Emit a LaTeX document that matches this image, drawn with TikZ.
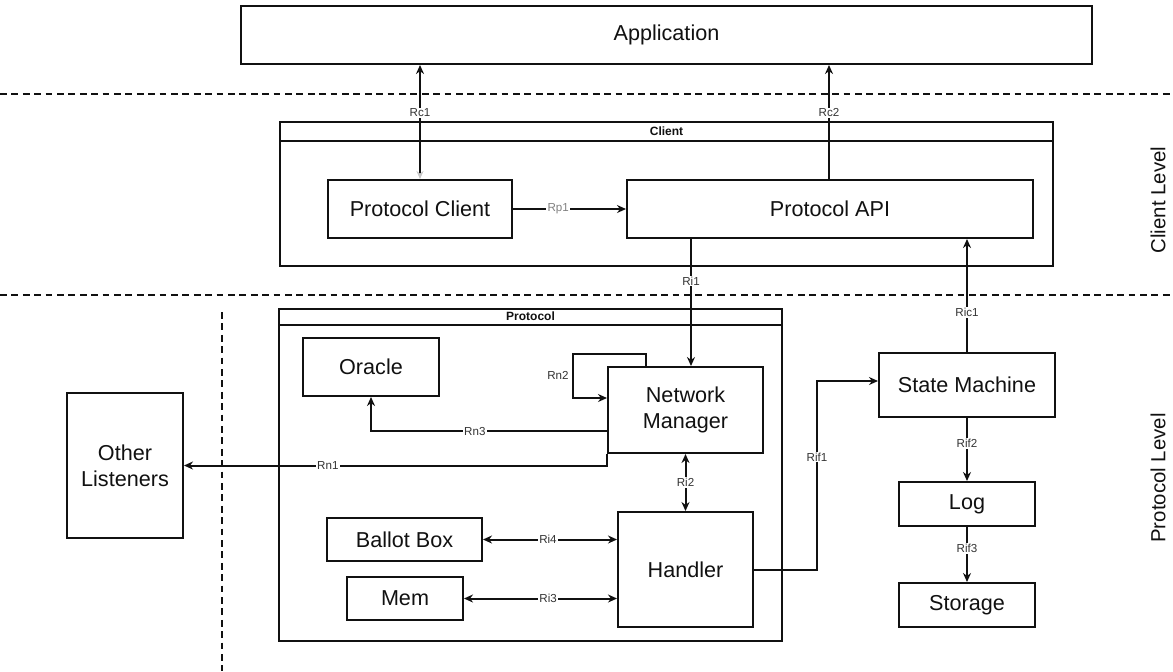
\documentclass[tikz,border=0pt]{standalone}
\usepackage{fontspec}
\setmainfont{Liberation Sans}
\usetikzlibrary{arrows.meta,calc}
\definecolor{ink}{HTML}{111111}
\definecolor{lblgray}{HTML}{333333}
\begin{document}
\begin{tikzpicture}[x=0.5pt,y=-0.5pt,
  box/.style={draw=ink, line width=1pt, rectangle, inner sep=0pt, align=center,
    text=ink, font=\fontsize{10.8}{13}\selectfont},
  hdr/.style={font=\bfseries\fontsize{6}{7}\selectfont, text=ink, inner sep=0pt},
  lvl/.style={font=\fontsize{10.2}{12}\selectfont, text=ink, rotate=90, inner sep=0pt},
  lbl/.style={font=\fontsize{5.8}{7}\selectfont, text=lblgray, fill=white, inner sep=0.6pt},
  lblnf/.style={font=\fontsize{5.8}{7}\selectfont, text=lblgray, inner sep=0.6pt},
  tip/.tip={Stealth[length=4.5pt,width=4pt]},
  arr/.style={draw=ink, line width=1pt, -tip},
  arrtwo/.style={draw=ink, line width=1pt, tip-tip},
  dline/.style={draw=ink, line width=0.9pt, dash pattern=on 3.4pt off 2.3pt}
]
\useasboundingbox[fill=white] (0,0) rectangle (1173,671);

% level separators
\coordinate (d1a) at (0,94);   \coordinate (d1b) at (1173,94);
\coordinate (d2a) at (0,295);  \coordinate (d2b) at (1173,295);
\coordinate (d3a) at (222,312); \coordinate (d3b) at (222,671);
\draw[dline] (d1a) -- (d1b);
\draw[dline] (d2a) -- (d2b);
\draw[dline] (d3a) -- (d3b);

\node[lvl] (clientlevel) at (1158,200) {Client Level};
\node[lvl] (protolevel) at (1158,478) {Protocol Level};

% boxes
\node[box, minimum width=425.5pt, minimum height=29pt] (app) at (666.5,35) {Application};

\node[box, minimum width=386.5pt, minimum height=72pt] (client) at (666.5,194) {};
\draw[draw=ink, line width=1pt] ($(client.north west)+(0,20)$) -- ($(client.north east)+(0,20)$);
\node[hdr] (clienthdr) at ($(client.north)+(0,10)$) {Client};

\node[box, minimum width=92pt, minimum height=29pt] (pclient) at (420,209) {Protocol Client};
\node[box, minimum width=203pt, minimum height=29pt] (papi) at (830,209) {Protocol API};

\node[box, minimum width=251.5pt, minimum height=166pt] (proto) at (530.5,475) {};
\draw[draw=ink, line width=1pt] ($(proto.north west)+(0,17)$) -- ($(proto.north east)+(0,17)$);
\node[hdr] (protohdr) at ($(proto.north)+(0,8.5)$) {Protocol};

\node[box, minimum width=68pt, minimum height=29pt] (oracle) at (371,367) {Oracle};
\node[box, minimum width=77.5pt, minimum height=43pt] (nm) at (685.5,410) {Network\\Manager};
\node[box, minimum width=67.5pt, minimum height=57.5pt] (handler) at (685.5,569.5) {Handler};
\node[box, minimum width=77.5pt, minimum height=21.5pt] (ballot) at (404.5,539.5) {Ballot Box};
\node[box, minimum width=58pt, minimum height=21.5pt] (mem) at (405,598.5) {Mem};
\node[box, minimum width=58pt, minimum height=72.5pt] (others) at (125,465.5) {Other\\Listeners};

\node[box, minimum width=88pt, minimum height=32pt] (sm) at (967,385) {State Machine};
\node[box, minimum width=68pt, minimum height=22pt] (log) at (967,504) {Log};
\node[box, minimum width=68pt, minimum height=22pt] (storage) at (967,605) {Storage};

% connectors
\draw[draw=ink, line width=1pt, {Stealth[length=4pt,width=3.5pt,color=gray!45]}-tip]
  (pclient.north) -- (pclient.north |- app.south) node[lbl, pos=0.58] (lrc1) {Rc1};
\draw[arr] ($(papi.north)+(-1,0)$) -- ($(papi.north |- app.south)+(-1,0)$) node[lbl, pos=0.58] (lrc2) {Rc2};
\draw[arr] (pclient.east) -- (papi.west) node[lbl, text=gray, pos=0.4] (lrp1) {Rp1};
\draw[arr] ($(papi.south west)+(65,0)$) -- ($(nm.north west)+(84,0)$) node[lbl, pos=0.33] (lri1) {Ri1};
\draw[arr] (sm.north) -- (sm.north |- papi.south) node[lbl, pos=0.35] (lric1) {Ric1};

\draw[arr] ($(nm.north west)+(39,0)$) -- ++(0,-12) -- ++(-73,0) -- ++(0,44) -- ($(nm.north west)+(0,32)$);
\node[lblnf] (lrn2) at ($(nm.north west)+(-49,9)$) {Rn2};

\draw[arr] ($(nm.north west)+(0,65)$) -| (oracle.south) node[lbl, pos=0.28] (lrn3) {Rn3};
\draw[arr] (nm.south west) |- (others.east) node[lbl, pos=0.83] (lrn1) {Rn1};

\draw[arrtwo] (nm.south) -- (handler.north) node[lbl, midway] (lri2) {Ri2};
\draw[arrtwo] (ballot.east) -- (ballot.east -| handler.west) node[lbl, pos=0.485] (lri4) {Ri4};
\draw[arrtwo] (mem.east) -- (mem.east -| handler.west) node[lbl, pos=0.55] (lri3) {Ri3};

\coordinate (rifcorner) at ($(handler.east)+(63,0)$);
\draw[arr] (handler.east) -- (rifcorner) |- ($(sm.west)+(0,-4)$);
\node[lbl] (lrif1) at ($(rifcorner)+(0,-112.5)$) {Rif1};

\draw[arr] (sm.south) -- (log.north) node[lbl, pos=0.4] (lrif2) {Rif2};
\draw[arr] (log.south) -- (storage.north) node[lbl, pos=0.39] (lrif3) {Rif3};
\end{tikzpicture}
\end{document}
